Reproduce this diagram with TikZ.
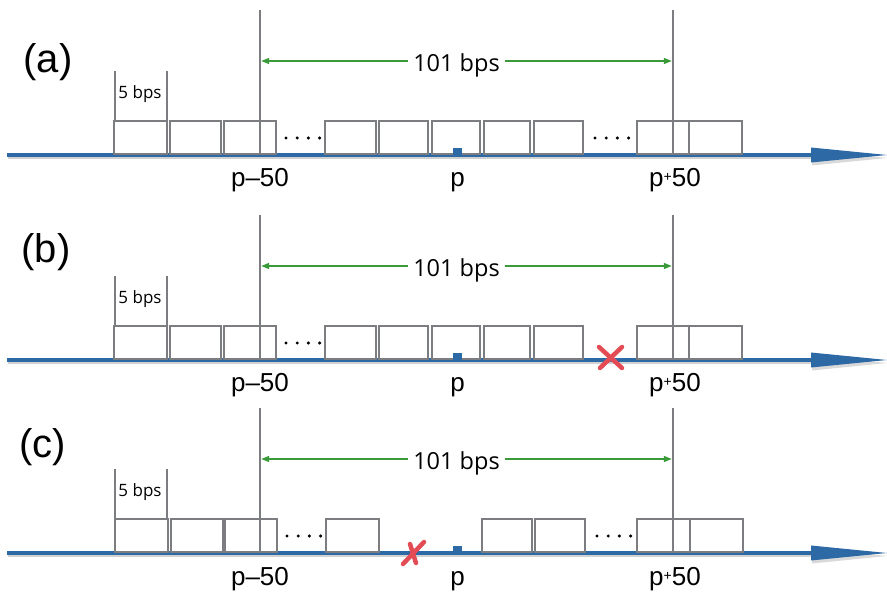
\documentclass[tikz,border=0pt]{standalone}
\usepackage{fontspec}
\setmainfont{Liberation Sans}
\newfontfamily\bpsfont{Open Sans}
\usetikzlibrary{arrows.meta}

\definecolor{axisblue}{HTML}{2D6AA5}
\definecolor{boxgray}{HTML}{7C7D81}
\definecolor{spangreen}{HTML}{3A9A3A}
\definecolor{markred}{HTML}{E34B55}

\tikzset{
  cellbox/.style={draw=boxgray, line width=2.4pt},
  guide/.style={draw=boxgray, line width=2.4pt},
  axisline/.style={draw=axisblue, line width=3.4pt},
  axisshadow/.style={draw=black, opacity=0.18, line width=2.5pt},
  span/.style={draw=spangreen, line width=1.4pt,
    {Triangle[length=8pt,width=6pt]}-{Triangle[length=8pt,width=6pt]},
    shorten <=1.2pt, shorten >=1.2pt},
  spanlabel/.style={fill=white, inner xsep=5pt, inner ysep=0pt, anchor=base,
    font=\bpsfont\fontsize{23.5}{24}\selectfont},
  celllabel/.style={inner sep=0pt, anchor=base, font=\bpsfont\fontsize{17}{18}\selectfont},
  poslabel/.style={inner sep=0pt, anchor=base, font=\fontsize{26}{26}\selectfont},
  panellabel/.style={inner sep=0pt, font=\fontsize{40}{40}\selectfont},
  dropmark/.style={draw=markred, line width=4.5pt, line cap=round},
  gapdot/.style={fill=black},
}

% one cell of the sequence, between two x positions (local y: 0 is the axis)
\newcommand\cell[2]{\draw[cellbox] (#1,-34) rectangle (#2,-1.2);}
% four dots standing for the cells left out
\newcommand\gapdots[1]{\foreach \k in {0,1,2,3}{\fill[gapdot] (#1+11.2*\k,-17) circle (1.7);}}

% axis, guides, span arrow and labels shared by every row
% #1 row id, #2 axis y, #3 row label x, #4 row label y, #5 row label text
\newcommand\rowframe[5]{%
  \node[panellabel] (tag#1) at (#3,#4) {#5};
  \begin{scope}[shift={(0,#2)}]
    \draw[axisshadow] (8,3) -- (812,3);
    \fill[black, opacity=0.15] (812,-4.5) -- (887,3) -- (812,10.5) -- cycle;
    \draw[axisline] (7,0) -- (813,0);
    \fill[axisblue] (811,-7.5) -- (887,0) -- (811,7.5) -- cycle;
    \coordinate (lo#1) at (260,-1.2);
    \coordinate (lt#1) at (260,-145);
    \coordinate (ro#1) at (673,-1.2);
    \coordinate (rt#1) at (673,-145);
    \coordinate (ls#1) at (260,-94);
    \coordinate (rs#1) at (673,-94);
    \draw[guide] (lt#1) -- (lo#1);
    \draw[guide] (rt#1) -- (ro#1);
    \draw[guide] (115,-84) -- (115,-34);
    \draw[guide] (167,-84) -- (167,-34);
    \node[celllabel] (unit#1) at (140,-56) {5 bps};
    \draw[span] (ls#1) -- (rs#1);
    \node[spanlabel] (width#1) at (456.5,-83) {101 bps};
    \node[poslabel] (pm#1) at (260,32) {p–50};
    \node[poslabel] (pc#1) at (457.5,32) {p};
    \node[poslabel] (pp#1) at (675,32) {p\raisebox{5pt}{\fontsize{14}{14}\selectfont+}50};
  \end{scope}}

% the read position p on the axis
\newcommand\posmark{\fill[axisblue] (453,-7) rectangle (462,1);}

\begin{document}
\begin{tikzpicture}[x=1pt, y=-1pt]
  \useasboundingbox (0,0) rectangle (887,593);

  % row (a): complete window
  \rowframe{a}{155}{48}{62}{(a)}
  \begin{scope}[shift={(0,155)}]
    \cell{114}{167}\cell{170}{221}\cell{224}{276}
    \gapdots{286}
    \cell{325}{376}\cell{379}{428}\cell{432}{480}\cell{484}{530}\cell{534}{583}
    \gapdots{595}
    \cell{637}{689}\cell{689}{742}
    \posmark
  \end{scope}

  % row (b): a break right of p
  \rowframe{b}{360}{46}{252}{(b)}
  \begin{scope}[shift={(0,360)}]
    \cell{114}{167}\cell{170}{221}\cell{224}{276}
    \gapdots{286}
    \cell{325}{376}\cell{379}{428}\cell{432}{480}\cell{484}{530}\cell{534}{583}
    \cell{637}{689}\cell{689}{742}
    \posmark
    \draw[dropmark] (599,-13) -- (622,8);
    \draw[dropmark] (622,-13) -- (600,8);
  \end{scope}

  % row (c): a break left of p
  \rowframe{c}{553}{43}{447}{(c)}
  \begin{scope}[shift={(0,553)}]
    \cell{115}{168}\cell{171}{223}\cell{225}{277}
    \gapdots{287}
    \cell{326}{379}
    \cell{482}{532}\cell{535}{585}
    \gapdots{597}
    \cell{637}{690}\cell{690}{743}
    \posmark
    \draw[dropmark] (424,-11) -- (403,11);
    \draw[dropmark] (410,-9) -- (416,10);
  \end{scope}
\end{tikzpicture}
\end{document}
